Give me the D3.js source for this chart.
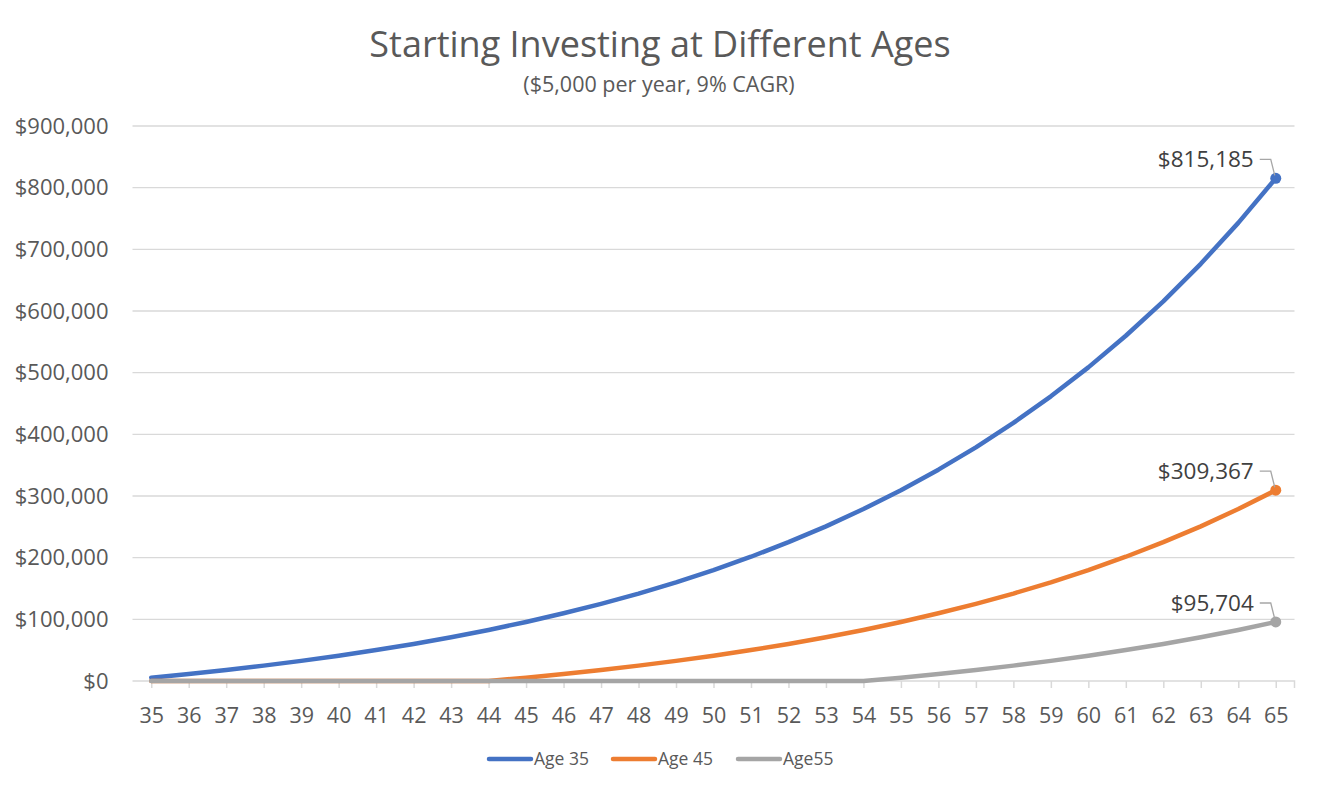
<!DOCTYPE html>
<html><head><meta charset="utf-8">
<script src="https://cdn.jsdelivr.net/npm/d3@7"></script>
<style>body{margin:0;background:#fff;} text{font-family:"Open Sans",sans-serif;fill:#595959;}</style>
</head><body><svg id="c" width="1318" height="791"></svg>
<script>
const ages = [35,36,37,38,39,40,41,42,43,44,45,46,47,48,49,50,51,52,53,54,55,56,57,58,59,60,61,62,63,64,65];
const age35 = [5450,11391,17866,24924,32617,41002,50142,60105,70965,82802,95704,109767,125096,141805,160017,179869,201507,225092,250801,278823,309367,342660,378949,418505,461620,508616,559841,615678,676538,742875,815185];
const age45 = [0,0,0,0,0,0,0,0,0,0,5450,11391,17866,24924,32617,41002,50142,60105,70965,82802,95704,109767,125096,141805,160017,179869,201507,225092,250801,278823,309367];
const age55 = [0,0,0,0,0,0,0,0,0,0,0,0,0,0,0,0,0,0,0,0,5450,11391,17866,24924,32617,41002,50142,60105,70965,82802,95704];
const seriesNames = ["Age 35","Age 45","Age55"];
const colors = ["#4472c4","#ed7d31","#a5a5a5"];
const yTicks = [0,100000,200000,300000,400000,500000,600000,700000,800000,900000];
const title = "Starting Investing at Different Ages";
const subtitle = "($5,000 per year, 9% CAGR)";

const FONT = "'Open Sans',sans-serif";
const svg = d3.select("#c");
const L = 132.5, R = 1294.5, T = 126, B = 681;
const x = d3.scalePoint().domain(ages).range([L, R]).padding(0.5);
const y = d3.scaleLinear().domain([0, 900000]).range([B, T]);
const fmt = v => "$" + d3.format(",")(v);

svg.append("text").attr("x",660).attr("y",57).attr("text-anchor","middle").style("font-size","36px").text(title);
svg.append("text").attr("x",659).attr("y",92).attr("text-anchor","middle").style("font-size","21.5px").text(subtitle);

// gridlines
svg.append("g").selectAll("line").data(yTicks.filter(d=>d>0)).join("line")
  .attr("x1",L).attr("x2",R).attr("y1",d=>y(d)).attr("y2",d=>y(d))
  .attr("stroke","#d9d9d9").attr("stroke-width",1.3);

// y axis labels
const ya = svg.append("g").attr("transform",`translate(${L},0)`)
  .call(d3.axisLeft(y).tickValues(yTicks).tickSize(0).tickPadding(24).tickFormat(fmt));
ya.select(".domain").remove();
ya.selectAll("text").style("font-size","22px").style("fill","#595959").style("font-family",FONT);

// x axis
const xa = svg.append("g").attr("transform",`translate(0,${B})`)
  .call(d3.axisBottom(x).tickSize(7).tickPadding(20));
xa.select(".domain").attr("d",`M${L},0H${R}V7`).attr("stroke","#d9d9d9").attr("stroke-width",1.5).attr("fill","none");
xa.selectAll(".tick line").attr("stroke","#d9d9d9").attr("stroke-width",1.5);
xa.selectAll("text").style("font-size","21.5px").style("fill","#595959").style("font-family",FONT);

const all = [age35, age45, age55];
const line = d3.line().x((d,i)=>x(ages[i])).y(d=>y(d));
all.forEach((s,k)=>{
  svg.append("path").datum(s).attr("d",line).attr("fill","none")
    .attr("stroke",colors[k]).attr("stroke-width",4.5).attr("stroke-linejoin","round").attr("stroke-linecap","round");
});
all.forEach((s,k)=>{
  const last = s[s.length-1], px = x(ages[ages.length-1]), py = y(last);
  svg.append("circle").attr("cx",px).attr("cy",py).attr("r",5.5).attr("fill",colors[k]);
  const ly = py - 19;
  svg.append("path").attr("d",`M${px-16},${ly}H${px-5}L${px-1},${py-3}`).attr("fill","none").attr("stroke","#a6a6a6").attr("stroke-width",1.3);
  svg.append("text").attr("x",px-22).attr("y",ly).attr("dy","0.35em").attr("text-anchor","end").style("font-size","22.5px").style("fill","#404040").text(fmt(last));
});

// legend
const lg = [{x:489,t:seriesNames[0]},{x:613,t:seriesNames[1]},{x:738,t:seriesNames[2]}];
lg.forEach((d,k)=>{
  svg.append("line").attr("x1",d.x).attr("x2",d.x+42).attr("y1",759).attr("y2",759).attr("stroke",colors[k]).attr("stroke-width",4.5).attr("stroke-linecap","round");
  svg.append("text").attr("x",d.x+45).attr("y",759).attr("dy","0.35em").style("font-size","17.5px").text(d.t);
});
</script></body></html>
